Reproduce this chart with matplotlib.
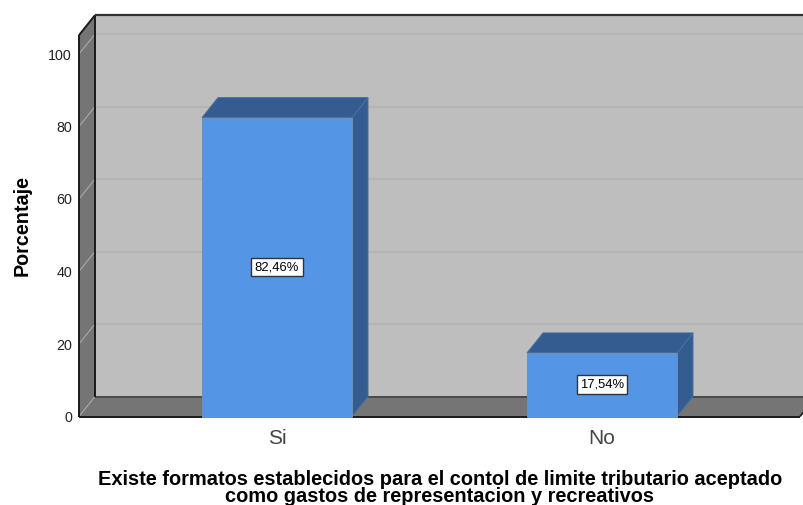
import matplotlib
matplotlib.use("Agg")
import matplotlib.pyplot as plt
from matplotlib.patches import Polygon

plt.rcParams['font.family'] = ['Liberation Sans', 'DejaVu Sans']

categories = ['Si', 'No']
values = [82.46, 17.54]
value_labels = ['82,46%', '17,54%']
y_ticks = [0, 20, 40, 60, 80, 100]

WALL = '#bebebe'
SIDE = '#757575'
BAR = '#5595e5'
BAR_DARK = '#345c90'

W, H = 804, 505
PX_PER_CAT = 325.0      # pixels between the two bars
PX_PER_PCT = 3.625      # pixels per percent
LEFT_PX, ZERO_PX = 79, 416.5
CAT0_PX = 277

# depth of the fake 3D box, in data units
dx = 16 / PX_PER_CAT
dy = 20 / PX_PER_PCT
bar_w = 150 / PX_PER_CAT
y_top = 105.2

fig = plt.figure(figsize=(W / 100, H / 100), dpi=100)
ax = fig.add_axes([LEFT_PX / W, (H - ZERO_PX) / H, (W - LEFT_PX) / W, y_top * PX_PER_PCT / H])
x_left = (LEFT_PX - CAT0_PX) / PX_PER_CAT
x_right = (800 - CAT0_PX) / PX_PER_CAT
ax.set_xlim(x_left, (W - CAT0_PX) / PX_PER_CAT)
ax.set_ylim(0, y_top)
ax.patch.set_visible(False)
for s in ax.spines.values():
    s.set_visible(False)


def poly(pts, face, edge='none', lw=0.0, z=1):
    ax.add_patch(Polygon(pts, closed=True, facecolor=face, edgecolor=edge, linewidth=lw, zorder=z, clip_on=False))


def line(xs, ys, color, lw=1.0, z=2):
    ax.plot(xs, ys, color=color, lw=lw, zorder=z, clip_on=False, solid_capstyle='butt')


# --- walls and floor
poly([(x_left + dx, dy), (x_right + dx, dy), (x_right + dx, y_top + dy), (x_left + dx, y_top + dy)], WALL)
poly([(x_left, 0), (x_left + dx, dy), (x_left + dx, y_top + dy), (x_left, y_top)], SIDE)
poly([(x_left, 0), (x_right, 0), (x_right + dx, dy), (x_left + dx, dy)], SIDE)

# --- gridlines, on the back wall and running down the side wall
for t in y_ticks[1:]:
    line([x_left + dx, x_right + dx], [t + dy, t + dy], '#b2b2b2', 1.2)
for t in y_ticks:
    line([x_left, x_left + dx], [t, t + dy], '#a8a8a8', 0.8)

# --- box outlines
line([x_left + dx, x_right + dx], [dy, dy], '#4a4a4a', 1.4, 3)
line([x_left + dx, x_left + dx], [dy, y_top + dy], '#1a1a1a', 1.4, 3)
line([x_left, x_left], [0, y_top], '#1a1a1a', 1.4, 3)
line([x_left, x_left + dx], [y_top, y_top + dy], '#1a1a1a', 1.4, 3)
line([x_left + dx, x_right + dx], [y_top + dy, y_top + dy], '#303030', 1.6, 3)
line([x_left, x_right], [0, 0], '#1a1a1a', 1.4, 3)
line([x_right, x_right + dx], [0, dy], '#1a1a1a', 1.2, 3)

# --- bars
for i, v in enumerate(values):
    l, r = i - bar_w / 2, i + bar_w / 2
    poly([(r, 0), (r + dx, dy), (r + dx, v + dy), (r, v)], BAR_DARK, '#4a6f9f', 0.7, 4)
    poly([(l, v), (r, v), (r + dx, v + dy), (l + dx, v + dy)], BAR_DARK, '#4a6f9f', 0.7, 4)
    ax.bar(i, v, width=bar_w, color=BAR, edgecolor='#6f8fb8', linewidth=0.7, zorder=5, clip_on=False)
    ax.text(i, v / 2, value_labels[i], ha='center', va='center', fontsize=9.4, color='black', zorder=6,
            bbox=dict(boxstyle='square,pad=0.26', facecolor='white', edgecolor='#333333', linewidth=1.0))

# --- axes text
ax.set_yticks(y_ticks)
ax.set_xticks(range(len(categories)))
ax.set_xticklabels(categories, fontsize=15, color='#444444')
ax.tick_params(axis='y', length=0, pad=5, labelsize=10.3, labelcolor='#222222')
ax.tick_params(axis='x', length=0, pad=9)

fig.text(22 / W, 1 - 226 / H, 'Porcentaje', rotation=90, ha='center', va='center',
         fontsize=14.2, fontweight='bold')
fig.text(440 / W, 1 - 488 / H, 'Existe formatos establecidos para el contol de limite tributario aceptado\ncomo gastos de representacion y recreativos',
         ha='center', va='center', fontsize=14.4, fontweight='bold', linespacing=0.85)

fig.savefig('out.png', dpi=100)
